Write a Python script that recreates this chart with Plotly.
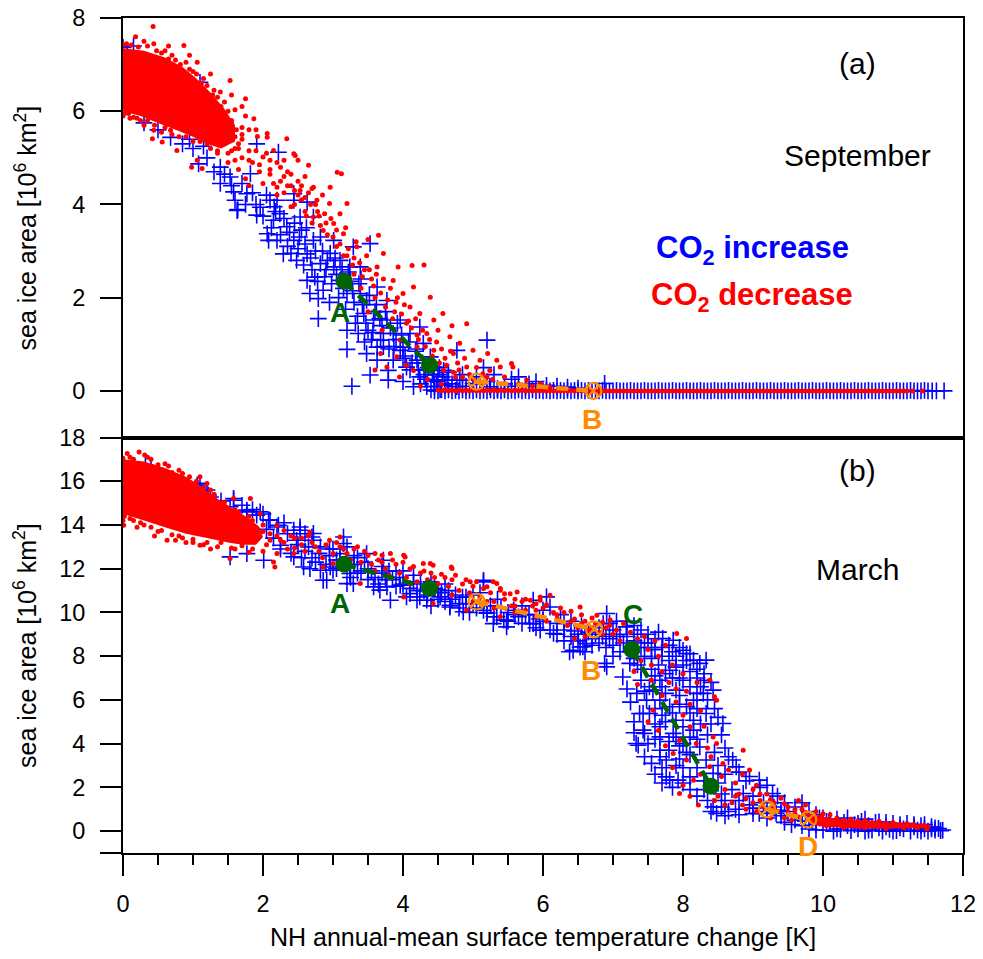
import plotly.graph_objects as go

# ---------------- data ----------------
# Panel (a) September : (temperature change [K], sea ice area [1e6 km2])
sep_increase = [
    (0.0, 7.37), (0.15, 7.40), (0.06, 7.23), (0.0, 6.9), (0.0, 6.75),
    (0.68, 5.44), (1.1, 6.62), (1.25, 6.12), (1.27, 5.8), (1.08, 4.87), (1.39, 4.45), (1.6, 4.09),
    (1.63, 3.87), (1.91, 3.77), (2.22, 5.12), (1.91, 5.3), (1.49, 5.59), (1.39, 4.8), (1.53, 4.59),
    (1.82, 4.66), (2.1, 4.09), (2.16, 3.95), (2.44, 4.23), (2.63, 4.05), (2.72, 3.73),
    (1.58, 4.27), (1.64, 3.89), (1.77, 4.23), (1.96, 3.94), (2.08, 3.23), (2.2, 3.23), (2.29, 2.94),
    (2.48, 2.8), (2.63, 2.37), (2.79, 1.98), (2.79, 1.55), (3.2, 0.89), (3.27, 0.10), (3.53, 0.34),
    (3.79, 0.23), (3.79, 0.44), (3.2, 1.3), (3.36, 1.23), (3.48, 0.8), (3.63, 0.94), (3.72, 1.23),
    (3.1, 2.37), (3.01, 2.66), (2.96, 2.95), (3.01, 3.23), (3.29, 3.09), (3.53, 3.16), (3.39, 2.66),
    (3.63, 2.23), (3.48, 1.94), (3.77, 1.94), (3.96, 1.52), (4.1, 1.23), (4.24, 1.37), (4.29, 1.02),
    (3.96, 0.87), (4.05, 0.51), (4.15, 0.09), (4.34, 0.09), (4.53, 0.02), (4.81, 0.23), (5.2, 1.09),
    (4.77, 0.87), (4.58, 0.44), (4.44, 0.51), (4.39, 0.73), (3.86, 0.66), (3.63, 0.66), (2.74, 2.44),
    (2.67, 2.09), (2.86, 2.16), (2.44, 3.23), (2.63, 2.94), (2.82, 2.73), (2.72, 3.23), (2.34, 3.52),
    (2.15, 3.66), (2.06, 3.37), (2.24, 3.8), (2.53, 3.73), (2.44, 4.09), (2.2, 4.09), (3.24, 2.66),
    (3.2, 2.09), (3.39, 2.09), (3.58, 1.52), (3.44, 1.66), (3.77, 1.52), (3.86, 1.23), (3.68, 1.09),
    (4.0, 0.94), (4.2, 0.66), (4.24, 0.3), (4.44, 0.23), (4.63, 0.23), (4.77, 0.09), (5.0, 0.16),
    (5.24, 0.09), (3.05, 2.5), (3.15, 2.2), (3.25, 2.35), (3.3, 1.9), (3.1, 2.8), (2.9, 2.6),
    (2.85, 3.0), (3.35, 1.6), (3.5, 1.3), (3.6, 1.7), (3.7, 1.4), (3.9, 1.1), (4.0, 0.7), (4.1, 0.45),
    (4.3, 0.35), (4.45, 0.1), (4.2, 0.9), (3.8, 0.9), (3.55, 1.1), (2.55, 3.45), (2.35, 3.1),
    (2.6, 3.15), (2.7, 2.6), (2.95, 1.9), (3.4, 2.4), (3.45, 1.05), (4.0, 0.2), (4.25, 0.15),
    (4.5, 0.35), (4.6, 0.12), (5.05, 0.3), (5.15, 0.5), (5.2, 0.2), (5.3, 0.35), (5.45, 0.15),
    (5.55, 0.25), (5.75, 0.1), (6.05, 0.12), (6.35, 0.08), (6.88, 0.16), (5.9, 0.2),
]
sep_increase_band = [
    (1.45, 4.65), (1.55, 4.4), (1.7, 4.45), (1.75, 4.0), (1.85, 4.25), (1.9, 4.0), (2.0, 3.75),
    (2.05, 4.2), (2.12, 3.5), (2.18, 3.85), (2.25, 3.35), (2.3, 3.7), (2.38, 3.4), (2.4, 2.95),
    (2.45, 3.6), (2.5, 3.05), (2.52, 3.3), (2.58, 2.7), (2.62, 3.5), (2.68, 2.85), (2.75, 3.0),
    (2.78, 2.35), (2.82, 3.3), (2.88, 2.45), (2.92, 2.8), (2.98, 2.3), (3.03, 2.85), (3.08, 2.0),
    (3.13, 2.6), (3.18, 1.75), (3.22, 2.55), (3.28, 2.15), (3.32, 1.45), (3.37, 2.3), (3.42, 1.85),
    (3.47, 1.45), (3.52, 2.05), (3.57, 1.25), (3.62, 1.85), (3.67, 1.55), (3.72, 0.95), (3.75, 1.7),
    (3.82, 1.35), (3.87, 0.95), (3.92, 1.45), (3.98, 1.2), (4.03, 0.75), (4.08, 1.05), (4.13, 0.6),
    (4.18, 0.85), (4.22, 0.45), (4.28, 0.6), (4.32, 0.25), (4.36, 0.5), (4.42, 0.35), (4.48, 0.2),
    (4.52, 0.5), (4.56, 0.3), (4.65, 0.4), (4.7, 0.15), (4.85, 0.35), (4.9, 0.1), (5.1, 0.15),
    (5.35, 0.05), (5.6, 0.1), (5.65, 0.3), (5.8, 0.15), (6.2, 0.1), (6.5, 0.06),
    (0.3, 5.75), (0.5, 5.6), (0.85, 5.3), (1.0, 5.2), (1.2, 5.0), (1.3, 4.7), (0.95, 5.4), (1.15, 5.25),
]
sep_increase_tail = [
    (4.40, 0.02), (4.45, 0.0), (4.50, 0.0), (4.55, 0.03), (4.60, 0.0), (4.65, 0.02), (4.70, 0.0), (4.75, 0.01),
    (4.80, 0.0), (4.85, 0.02), (4.90, 0.0), (4.95, 0.01), (5.00, 0.0), (5.05, 0.02), (5.10, 0.0), (5.15, 0.01),
    (5.20, 0.0), (5.25, 0.02), (5.30, 0.0), (5.35, 0.01), (5.40, 0.0), (5.45, 0.02), (5.50, 0.0), (5.55, 0.01),
    (5.60, 0.0), (5.65, 0.02), (5.70, 0.0), (5.75, 0.01), (5.80, 0.0), (5.85, 0.02), (5.90, 0.0), (5.95, 0.01),
    (6.00, 0.0), (6.05, 0.01), (6.10, 0.0), (6.15, 0.01), (6.20, 0.0), (6.25, 0.01), (6.30, 0.0), (6.35, 0.01),
    (6.40, 0.0), (6.45, 0.01), (6.50, 0.0), (6.55, 0.01), (6.60, 0.0), (6.65, 0.01), (6.70, 0.0), (6.75, 0.01),
    (6.80, 0.0), (6.85, 0.01), (6.90, 0.0), (6.95, 0.0), (7.00, 0.0), (7.05, 0.01), (7.10, 0.0), (7.15, 0.0),
    (7.20, 0.0), (7.25, 0.01), (7.30, 0.0), (7.35, 0.0), (7.40, 0.0), (7.45, 0.01), (7.50, 0.0), (7.55, 0.0),
    (7.60, 0.0), (7.65, 0.01), (7.70, 0.0), (7.75, 0.0), (7.80, 0.0), (7.85, 0.01), (7.90, 0.0), (7.95, 0.0),
    (8.00, 0.0), (8.05, 0.01), (8.10, 0.0), (8.15, 0.0), (8.20, 0.0), (8.25, 0.01), (8.30, 0.0), (8.35, 0.0),
    (8.40, 0.0), (8.45, 0.01), (8.50, 0.0), (8.55, 0.0), (8.60, 0.0), (8.65, 0.01), (8.70, 0.0), (8.75, 0.0),
    (8.80, 0.0), (8.85, 0.01), (8.90, 0.0), (8.95, 0.0), (9.00, 0.0), (9.05, 0.01), (9.10, 0.0), (9.15, 0.0),
    (9.20, 0.0), (9.25, 0.01), (9.30, 0.0), (9.35, 0.0), (9.40, 0.0), (9.45, 0.01), (9.50, 0.0), (9.55, 0.0),
    (9.60, 0.0), (9.65, 0.01), (9.70, 0.0), (9.75, 0.0), (9.80, 0.0), (9.85, 0.01), (9.90, 0.0), (9.95, 0.0),
    (10.00, 0.0), (10.05, 0.01), (10.10, 0.0), (10.15, 0.0), (10.20, 0.0), (10.25, 0.01), (10.30, 0.0), (10.35, 0.0),
    (10.40, 0.0), (10.45, 0.01), (10.50, 0.0), (10.55, 0.0), (10.60, 0.0), (10.65, 0.01), (10.70, 0.0), (10.75, 0.0),
    (10.80, 0.0), (10.85, 0.01), (10.90, 0.0), (10.95, 0.0), (11.00, 0.0), (11.05, 0.01), (11.10, 0.0), (11.15, 0.0),
    (11.20, 0.0), (11.25, 0.01), (11.30, 0.0), (11.35, 0.0), (11.40, 0.0), (11.45, 0.01), (11.50, 0.0), (11.56, 0.0),
    (11.62, 0.0), (11.73, 0.0),
]
sep_decrease_core = [
    (0.0, 7.35), (0.3, 7.3), (0.6, 7.15), (0.85, 6.95), (1.05, 6.7), (1.25, 6.4), (1.45, 6.05),
    (1.6, 5.7), (1.6, 5.35), (1.4, 5.2), (1.2, 5.3), (1.0, 5.45), (0.75, 5.6), (0.5, 5.75),
    (0.25, 5.9), (0.0, 6.0),
]
sep_decrease = [
    (0.43, 7.82), (0.18, 7.6), (0.44, 7.45), (0.87, 7.41), (1.06, 7.05), (1.53, 6.66), (1.75, 6.27),
    (1.39, 6.41), (1.6, 6.03), (1.87, 5.84), (2.06, 5.44), (2.34, 5.41), (2.46, 5.05), (2.65, 4.84),
    (2.6, 4.6), (2.72, 4.37), (1.92, 5.46), (2.15, 5.16), (2.0, 5.02), (2.25, 4.8), (2.3, 4.6),
    (2.2, 4.37), (1.06, 4.95), (1.13, 4.77), (0.98, 4.8), (0.77, 5.16), (0.56, 5.34), (0.42, 5.41),
    (0.25, 5.8), (0.15, 5.87), (0.44, 5.59), (0.68, 5.59),
    (0.05, 7.45), (0.3, 7.5), (0.6, 7.3), (0.7, 7.2), (0.9, 7.05), (1.0, 6.85), (1.15, 6.7), (1.3, 6.45),
    (1.45, 6.2), (1.45, 5.9), (1.5, 5.6), (1.4, 5.35), (1.2, 5.3), (1.0, 5.35), (0.8, 5.45), (0.55, 5.55),
    (0.3, 5.7), (0.1, 5.85), (0.02, 5.95), (1.25, 5.55), (1.55, 5.8), (1.6, 5.45),
    (1.45, 5.3), (1.55, 5.15), (1.65, 5.3), (1.7, 5.0), (1.8, 5.15), (1.85, 4.9), (1.9, 5.6), (1.7, 5.65),
    (1.65, 4.75), (1.75, 4.55), (1.95, 4.7), (2.0, 4.45), (2.1, 4.65), (2.1, 4.95), (2.2, 4.2), (2.3, 4.95),
    (2.35, 4.4), (2.4, 4.65), (2.45, 4.3), (2.5, 4.5), (2.55, 4.1), (2.4, 3.95), (2.6, 3.85), (2.65, 4.25),
    (2.75, 4.0), (2.8, 3.75), (2.85, 4.2), (2.9, 3.6), (1.35, 5.1), (1.5, 4.9), (1.6, 4.95), (1.8, 4.4),
    (2.06, 5.52), (2.44, 5.09), (2.5, 4.95), (2.7, 4.34), (3.06, 4.69), (3.12, 4.66), (2.96, 4.37),
    (3.2, 4.02), (3.1, 3.8), (2.95, 4.02), (2.77, 4.09), (2.53, 4.3), (2.72, 3.73), (2.86, 3.44),
    (3.01, 3.59), (3.15, 3.37), (3.34, 3.09), (3.5, 3.25), (3.65, 3.34), (3.72, 2.95), (3.63, 2.66),
    (3.93, 2.66), (4.13, 2.69), (4.3, 2.7), (3.86, 2.37), (4.0, 2.09), (4.15, 2.23), (4.39, 2.01),
    (4.57, 1.66), (4.44, 1.52), (4.24, 1.66), (4.1, 1.8), (4.34, 1.23), (4.67, 1.16), (4.81, 1.02),
    (4.91, 1.44), (5.0, 0.87), (5.1, 0.66), (4.72, 0.8), (4.44, 0.87), (4.2, 0.94), (3.96, 1.09),
    (3.91, 0.73), (3.68, 0.8), (3.77, 0.51), (4.15, 0.44), (4.58, 0.44), (4.91, 0.51), (5.14, 0.37),
    (5.21, 0.8), (5.55, 0.59), (5.34, 0.66), (5.57, 0.51), (5.39, 0.51), (5.24, 0.44), (5.2, 0.3),
    (5.96, 0.16), (5.77, 0.23), (3.3, 2.85), (3.45, 2.6), (3.55, 2.4), (3.4, 2.2), (3.6, 2.0),
    (3.75, 1.8), (3.9, 1.9), (3.85, 1.55), (4.05, 1.45), (4.2, 1.2), (3.7, 1.3), (3.5, 1.7), (3.3, 2.5),
    (3.2, 2.9), (3.05, 3.1), (4.4, 0.6), (4.6, 0.7), (4.8, 0.45), (4.35, 0.25), (4.55, 0.15),
    (4.75, 0.3), (5.0, 0.25), (3.95, 0.3), (4.05, 0.55), (3.6, 0.45), (4.25, 0.1),
]
sep_decrease_band = [
    (1.6, 5.2), (1.7, 5.4), (1.8, 4.95), (1.9, 5.15), (1.95, 4.85), (2.05, 5.1), (2.1, 4.75),
    (2.15, 4.45), (2.2, 4.9), (2.25, 4.5), (2.3, 4.25), (2.35, 4.7), (2.4, 4.4), (2.45, 4.0),
    (2.5, 4.2), (2.55, 4.4), (2.6, 4.15), (2.62, 3.75), (2.68, 4.0), (2.7, 3.6), (2.78, 3.85),
    (2.82, 3.55), (2.88, 3.8), (2.92, 3.35), (2.97, 3.7), (3.0, 3.3), (3.05, 3.45), (3.1, 3.15),
    (3.15, 2.9), (3.18, 3.5), (3.22, 3.05), (3.28, 2.7), (3.33, 3.2), (3.38, 2.75), (3.42, 2.45),
    (3.48, 2.9), (3.52, 2.6), (3.58, 2.25), (3.62, 2.5), (3.68, 2.1), (3.72, 2.4), (3.78, 1.95),
    (3.82, 2.2), (3.88, 1.7), (3.92, 2.0), (3.98, 1.65), (4.02, 1.85), (4.08, 1.5), (4.12, 1.35),
    (4.18, 1.55), (4.22, 1.1), (4.28, 1.3), (4.32, 0.95), (4.38, 1.1), (4.42, 0.75), (4.48, 1.05),
    (4.52, 0.6), (4.55, 0.9), (4.62, 0.55), (4.68, 0.85), (4.72, 0.4), (4.78, 0.6), (4.85, 0.3),
    (4.88, 0.7), (4.95, 0.35), (5.05, 0.5), (5.1, 0.2), (5.28, 0.25), (5.45, 0.3), (5.65, 0.15),
    (5.85, 0.1), (6.1, 0.08), (6.3, 0.05), (4.5, 1.3), (4.7, 1.4),
    (0.0, 7.42), (0.12, 7.42), (0.22, 7.38), (0.35, 7.4), (0.48, 7.3), (0.55, 7.25), (0.65, 7.12),
    (0.75, 7.1), (0.82, 7.0), (0.95, 6.9), (1.05, 6.8), (1.12, 6.6), (1.2, 6.55), (1.28, 6.35),
    (1.35, 6.3), (1.4, 6.1), (1.5, 6.0), (1.55, 5.75), (1.62, 5.6), (1.7, 5.5), (1.65, 5.2),
    (1.5, 5.1), (1.35, 5.15), (1.25, 5.2), (1.1, 5.35), (0.9, 5.45), (0.7, 5.5), (0.6, 5.65),
    (0.45, 5.7), (0.35, 5.8), (0.2, 5.85), (0.08, 5.95), (0.0, 5.9), (0.05, 6.1), (1.75, 5.9),
    (1.8, 5.6), (1.7, 6.1), (1.55, 6.35), (1.25, 6.8), (0.95, 7.2), (0.65, 7.4), (1.45, 5.45),
]
sep_decrease_tail = [
    (4.50, 0.02), (4.55, 0.0), (4.60, 0.03), (4.65, 0.0), (4.70, 0.02), (4.75, 0.0), (4.80, 0.03), (4.85, 0.0),
    (4.90, 0.02), (4.95, 0.0), (5.00, 0.03), (5.05, 0.0), (5.10, 0.02), (5.15, 0.0), (5.20, 0.02), (5.25, 0.0),
    (5.30, 0.02), (5.35, 0.0), (5.40, 0.02), (5.45, 0.0), (5.50, 0.02), (5.55, 0.0), (5.60, 0.02), (5.65, 0.0),
    (5.70, 0.02), (5.75, 0.0), (5.80, 0.01), (5.85, 0.0), (5.90, 0.01), (5.95, 0.0), (6.00, 0.01), (6.05, 0.0),
    (6.10, 0.01), (6.15, 0.0), (6.20, 0.01), (6.25, 0.0), (6.30, 0.01), (6.35, 0.0), (6.40, 0.01), (6.45, 0.0),
    (6.50, 0.01), (6.55, 0.0), (6.60, 0.01), (6.65, 0.0), (6.70, 0.0), (6.75, 0.0), (6.80, 0.0), (6.85, 0.0),
    (6.90, 0.0), (6.95, 0.0), (7.00, 0.0), (7.05, 0.0), (7.10, 0.0), (7.15, 0.0), (7.20, 0.0), (7.25, 0.0),
    (7.30, 0.0), (7.35, 0.0), (7.40, 0.0), (7.45, 0.0), (7.50, 0.0), (7.55, 0.0), (7.60, 0.0), (7.65, 0.0),
    (7.70, 0.0), (7.75, 0.0), (7.80, 0.0), (7.85, 0.0), (7.90, 0.0), (7.95, 0.0), (8.00, 0.0), (8.05, 0.0),
    (8.10, 0.0), (8.15, 0.0), (8.20, 0.0), (8.25, 0.0), (8.30, 0.0), (8.35, 0.0), (8.40, 0.0), (8.45, 0.0),
    (8.50, 0.0), (8.55, 0.0), (8.60, 0.0), (8.65, 0.0), (8.70, 0.0), (8.75, 0.0), (8.80, 0.0), (8.85, 0.0),
    (8.90, 0.0), (8.95, 0.0), (9.00, 0.0), (9.05, 0.0), (9.10, 0.0), (9.15, 0.0), (9.20, 0.0), (9.25, 0.0),
    (9.30, 0.0), (9.35, 0.0), (9.40, 0.0), (9.45, 0.0), (9.50, 0.0), (9.55, 0.0), (9.60, 0.0), (9.65, 0.0),
    (9.70, 0.0), (9.75, 0.0), (9.80, 0.0), (9.85, 0.0), (9.90, 0.0), (9.95, 0.0), (10.00, 0.0), (10.05, 0.0),
    (10.10, 0.0), (10.15, 0.0), (10.20, 0.0), (10.25, 0.0), (10.30, 0.0), (10.35, 0.0), (10.40, 0.0), (10.45, 0.0),
    (10.50, 0.0), (10.55, 0.0), (10.60, 0.0), (10.65, 0.0), (10.70, 0.0), (10.75, 0.0), (10.80, 0.0), (10.85, 0.0),
    (10.90, 0.0), (10.95, 0.0), (11.00, 0.0), (11.05, 0.0), (11.10, 0.0), (11.15, 0.0), (11.20, 0.0), (11.28, 0.0),
    (11.42, 0.0),
]

# Panel (b) March
mar_increase = [
    (0.0, 15.85), (0.0, 15.0), (0.32, 16.74), (0.05, 16.3), (0.4, 16.6),
    (1.1, 15.9), (1.06, 15.74), (1.25, 15.28), (1.58, 15.21), (1.53, 14.83), (1.77, 14.68), (1.91, 14.45),
    (2.1, 14.22), (2.2, 13.91), (2.44, 13.76), (2.53, 13.91), (2.72, 13.61), (2.72, 13.3), (1.4, 15.1),
    (1.7, 14.9), (1.85, 14.7), (2.0, 14.5), (2.3, 14.1), (2.6, 13.6), (1.2, 15.6), (1.06, 15.82),
    (1.22, 15.36), (1.58, 15.13), (1.77, 14.6), (1.96, 14.6), (2.08, 14.22), (2.22, 13.99), (2.53, 13.76),
    (2.7, 13.45), (1.53, 12.54), (2.01, 12.39), (1.77, 12.69), (2.25, 13.07), (2.44, 12.54), (2.58, 12.08),
    (2.67, 12.0), (2.82, 11.93), (2.96, 12.08), (3.1, 12.69), (3.2, 13.0), (3.24, 11.78), (2.82, 13.0),
    (2.48, 13.3), (2.86, 11.47), (3.0, 11.93), (3.2, 11.32), (3.67, 11.02), (3.77, 11.17), (4.05, 10.71),
    (4.24, 10.71), (4.34, 10.56), (4.67, 10.33), (4.86, 10.03), (5.15, 11.47), (5.34, 9.8), (2.91, 11.47),
    (3.29, 11.32), (3.58, 11.17), (3.96, 11.25), (4.1, 10.86), (3.82, 10.56), (4.2, 10.56), (4.53, 10.71),
    (4.67, 10.25), (4.81, 10.41), (5.15, 11.4), (5.29, 9.49), (5.44, 9.65), (5.48, 9.34), (5.2, 9.96),
    (5.58, 10.1), (5.81, 9.49), (5.96, 9.19), (6.1, 10.25), (6.15, 9.04), (5.86, 10.56), (6.05, 10.71),
    (3.15, 13.45), (3.48, 12.69), (3.72, 12.39), (3.15, 13.15), (3.3, 12.2), (3.4, 11.9), (3.5, 12.0),
    (3.6, 11.6), (3.7, 11.8), (3.85, 11.5), (3.9, 11.9), (4.0, 11.3), (4.15, 11.4), (4.3, 11.0),
    (4.45, 11.1), (4.55, 10.9), (4.6, 11.3), (4.75, 10.8), (4.9, 10.7), (5.0, 10.4), (5.1, 10.9),
    (3.05, 12.4), (2.95, 12.6), (3.35, 12.5), (4.4, 10.3), (4.95, 10.0), (3.0, 12.9), (2.7, 12.5),
    (2.6, 12.8), (5.15, 10.1), (5.48, 9.65), (5.86, 9.49), (6.43, 8.27), (6.53, 8.42), (6.62, 8.58),
    (6.88, 7.67), (6.91, 9.95), (5.25, 10.3), (5.35, 10.6), (5.5, 10.0), (5.65, 9.8), (5.7, 10.3),
    (5.8, 9.9), (5.95, 9.7), (6.0, 10.1), (6.2, 9.5), (6.25, 9.9), (6.3, 9.2), (6.4, 9.6), (6.5, 9.0),
    (6.55, 9.4), (6.65, 9.1), (6.7, 8.8), (6.8, 9.3), (6.85, 8.9), (6.95, 9.5), (6.4, 8.9), (6.3, 8.7),
    (6.6, 8.2), (6.38, 8.2), (6.57, 8.43),
    (6.91, 7.51), (6.86, 9.49), (7.0, 9.2), (7.19, 9.34), (7.24, 7.67), (7.14, 7.05), (7.34, 6.3),
    (7.38, 5.38), (7.36, 3.93), (7.45, 4.47), (7.52, 6.6), (7.67, 5.99), (7.67, 4.31), (7.67, 3.7),
    (7.76, 3.25), (7.81, 2.33), (7.93, 2.33), (7.71, 8.81), (7.86, 8.73), (8.05, 8.12), (8.15, 7.82),
    (8.24, 7.67), (8.33, 7.82), (8.0, 8.27), (8.1, 8.11), (8.29, 6.3), (8.43, 6.45), (8.33, 5.38),
    (8.57, 4.92), (8.15, 4.62), (8.24, 3.85), (8.33, 3.25), (8.71, 3.25), (8.76, 2.94), (8.43, 2.64),
    (9.09, 2.33), (9.28, 1.72), (8.43, 1.11), (8.48, 0.81), (8.86, 1.72), (9.09, 0.81), (9.33, 0.81),
    (7.67, 6.9), (7.81, 7.36), (7.9, 6.45), (7.57, 6.45), (8.0, 6.9), (8.05, 5.69), (7.9, 5.07),
    (7.81, 5.69), (8.15, 5.99), (7.52, 5.38), (7.48, 5.99), (7.67, 4.77), (7.86, 4.47), (8.0, 4.77),
    (8.15, 5.07), (7.33, 4.01), (7.43, 4.62), (7.43, 5.38), (7.67, 3.4), (7.76, 2.48), (8.1, 2.48),
    (7.05, 8.9), (7.15, 8.6), (7.2, 8.9), (7.3, 8.7), (7.35, 9.0), (7.4, 8.4), (7.45, 8.0), (7.5, 8.6),
    (7.55, 7.9), (7.6, 8.3), (7.65, 7.6), (7.7, 8.0), (7.75, 7.2), (7.8, 7.8), (7.85, 8.2), (7.9, 7.5),
    (7.95, 7.0), (8.0, 7.6), (8.1, 7.3), (8.2, 7.0), (8.25, 6.6), (8.1, 6.6), (7.95, 6.2), (8.2, 6.3),
    (7.75, 6.3), (7.6, 7.1), (7.4, 7.4), (7.3, 7.9), (7.1, 8.2), (7.0, 8.5), (6.95, 8.8), (7.85, 5.4),
    (7.95, 5.8), (7.7, 5.3), (7.6, 4.9), (7.8, 4.1), (7.95, 3.9), (8.05, 3.6), (7.9, 3.0), (8.0, 2.9),
    (7.7, 2.9), (8.2, 2.9), (8.3, 2.3), (8.5, 2.2), (8.55, 1.7), (8.6, 1.4), (8.7, 1.9), (8.8, 1.4),
    (8.9, 2.3), (8.95, 1.2), (9.0, 1.6), (9.15, 1.3), (9.2, 0.9), (9.3, 1.1), (9.4, 0.7), (9.5, 0.9),
    (9.6, 0.5), (9.7, 0.7), (8.65, 0.9), (8.75, 1.0), (8.55, 1.1), (9.0, 0.8), (9.45, 0.4), (9.55, 0.3),
    (9.7, 0.25), (9.8, 0.1), (9.9, 0.3), (10.0, 0.05), (10.1, 0.35), (10.15, 0.0), (10.25, 0.08),
    (10.3, 0.4), (10.4, 0.02), (10.5, 0.1), (10.55, 0.45), (10.6, 0.0), (10.7, 0.05), (10.75, 0.4),
    (10.8, 0.42), (10.85, 0.0), (10.95, 0.08), (11.0, 0.35), (11.05, 0.02), (11.15, 0.1), (11.2, 0.35),
    (11.25, 0.0), (11.35, 0.05), (11.4, 0.25), (11.45, 0.1), (11.5, 0.0), (11.55, 0.2), (11.6, 0.05),
    (11.65, 0.12), (11.71, 0.05), (10.2, 0.55), (9.95, 0.6), (10.45, 0.3), (10.65, 0.25), (10.9, 0.2),
    (11.1, 0.3), (11.3, 0.2), (9.85, 0.45),
]
mar_increase_band = [
    (2.05, 13.8), (2.15, 13.4), (2.25, 12.9), (2.35, 13.6), (2.4, 12.7), (2.5, 13.1), (2.55, 12.5),
    (2.65, 13.0), (2.75, 12.3), (2.8, 12.7), (2.9, 12.2), (2.95, 12.9), (3.05, 12.0), (3.1, 12.4),
    (3.2, 12.1), (3.25, 11.6), (3.3, 12.6), (3.35, 11.8), (3.45, 12.3), (3.5, 11.5), (3.55, 11.9),
    (3.65, 11.3), (3.7, 12.1), (3.75, 11.5), (3.8, 11.9), (3.9, 11.2), (3.95, 11.6), (4.0, 11.9),
    (4.1, 11.1), (4.15, 11.7), (4.2, 11.0), (4.25, 11.3), (4.35, 10.8), (4.4, 11.4), (4.5, 10.6),
    (4.5, 11.05), (4.6, 10.5), (4.65, 11.0), (4.7, 10.6), (4.8, 10.2), (4.85, 10.7), (4.9, 10.4),
    (5.0, 10.8), (5.05, 10.2), (5.1, 10.5), (5.2, 10.0), (5.3, 9.8), (5.4, 10.2), (5.5, 9.6),
    (5.6, 9.9), (5.7, 9.5), (5.75, 9.9), (5.9, 9.3), (6.0, 9.6), (6.1, 9.2), (6.2, 9.0), (6.3, 9.5),
    (6.45, 9.15), (6.5, 8.7), (6.6, 9.0), (6.7, 8.5), (6.75, 9.0), (6.8, 8.6), (6.9, 8.4), (6.9, 9.0),
    (7.0, 8.0), (7.05, 9.6), (7.1, 9.0), (7.2, 9.6), (7.25, 8.2), (7.3, 9.4), (7.4, 9.2), (7.45, 8.6),
    (7.5, 9.0), (7.55, 8.4), (7.6, 8.8), (7.65, 9.1), (7.7, 8.4), (7.8, 8.5), (7.9, 8.0), (7.95, 8.4),
    (8.05, 7.8), (8.2, 7.4), (8.3, 7.2), (8.3, 6.9), (8.4, 6.8), (8.35, 6.0), (8.45, 5.6), (8.4, 4.9),
    (8.5, 5.2), (8.35, 4.4), (8.55, 4.4), (8.45, 3.6), (8.6, 3.8), (8.5, 3.0), (8.65, 3.4), (8.8, 2.7),
    (8.6, 2.6), (8.95, 2.5), (9.1, 2.0), (9.2, 2.1), (9.35, 1.6), (9.45, 1.3), (9.6, 1.1), (9.7, 1.3),
    (9.8, 0.9), (9.9, 0.75), (10.0, 0.6), (10.1, 0.5), (10.35, 0.6), (10.6, 0.55), (7.2, 6.5),
    (7.25, 5.9), (7.3, 5.0), (7.3, 4.5), (7.45, 3.4), (7.55, 3.1), (7.6, 2.6), (7.7, 2.2), (7.85, 2.0),
    (8.0, 2.2), (8.1, 1.9), (8.2, 1.6), (8.35, 1.4), (8.3, 1.9), (8.4, 0.9), (8.6, 0.7), (8.8, 0.75),
    (9.0, 1.05), (9.2, 0.6), (9.4, 0.95), (7.8, 3.7), (7.9, 4.3), (7.6, 4.2), (7.5, 4.0), (7.75, 5.0),
    (7.6, 5.6), (7.7, 6.6), (7.45, 6.4), (7.4, 6.9), (7.35, 7.6), (7.55, 7.4), (7.85, 7.0), (8.1, 5.4),
    (8.2, 5.6), (8.25, 4.9), (8.1, 4.3), (8.2, 4.2), (8.0, 4.0), (8.1, 3.5), (7.95, 3.3),
    (9.75, 0.45), (9.9, 0.05), (10.05, 0.45), (10.2, 0.1), (10.35, 0.25), (10.5, 0.35), (10.65, 0.05),
    (10.8, 0.15), (10.9, 0.4), (11.0, 0.0), (11.1, 0.15), (11.3, 0.3), (11.4, 0.0), (11.45, 0.3),
    (11.55, 0.1), (11.6, 0.15), (11.68, 0.02),
]
mar_decrease_core = [
    (0.0, 17.0), (0.3, 16.9), (0.6, 16.6), (0.9, 16.2), (1.1, 15.8), (1.3, 15.3), (1.55, 14.8),
    (1.8, 14.3), (1.95, 13.9), (2.0, 13.45), (1.9, 13.1), (1.7, 13.1), (1.5, 13.2), (1.2, 13.4),
    (0.9, 13.6), (0.6, 13.9), (0.3, 14.2), (0.0, 14.5),
]
mar_decrease_tail_core = [
    (9.85, 0.75), (10.2, 0.55), (10.6, 0.45), (11.0, 0.38), (11.4, 0.3), (11.45, 0.15), (11.0, 0.12),
    (10.5, 0.12), (10.0, 0.2), (9.8, 0.35),
]
mar_decrease = [
    (0.06, 17.27), (0.23, 17.34), (0.31, 17.2), (1.1, 16.2), (1.2, 15.9), (1.58, 15.21), (1.82, 15.21),
    (1.96, 14.52), (2.2, 13.99), (2.67, 13.68), (3.1, 13.45), (3.1, 13.0), (3.7, 12.62), (4.03, 12.54),
    (4.43, 12.16), (4.69, 12.08), (5.34, 11.32), (0.01, 13.99), (0.63, 13.3), (1.1, 13.07), (1.53, 12.47),
    (2.15, 12.31), (2.17, 12.08), (2.44, 12.69), (3.0, 12.24),
    (0.1, 17.1), (0.4, 17.0), (0.6, 16.8), (0.8, 16.5), (0.95, 16.2), (1.15, 15.7), (1.3, 15.4),
    (1.4, 15.0), (1.6, 14.7), (1.8, 14.4), (2.0, 14.0), (2.1, 13.6), (2.05, 13.1), (1.85, 12.9),
    (1.6, 12.9), (1.4, 13.2), (1.2, 13.2), (1.0, 13.35), (0.8, 13.5), (0.5, 13.7), (0.3, 14.0),
    (0.15, 14.2), (0.02, 14.4), (0.45, 13.5), (0.9, 13.2), (1.7, 13.05), (1.35, 14.9), (1.55, 14.5),
    (2.2, 13.5), (2.3, 13.2), (2.35, 12.9), (2.45, 13.4), (2.55, 13.1), (2.6, 12.8), (2.7, 13.2),
    (2.8, 12.8), (2.85, 12.5), (2.9, 13.1), (3.0, 12.7), (3.05, 13.2), (3.2, 12.7), (3.25, 12.4),
    (3.3, 12.9), (3.4, 12.3), (3.5, 12.6), (3.55, 12.2), (3.6, 11.9), (3.65, 12.4), (3.75, 12.0),
    (3.8, 11.7), (3.9, 12.2), (3.95, 11.8), (4.05, 11.6), (4.1, 12.0), (4.2, 11.4), (4.25, 11.8),
    (4.35, 11.5), (4.45, 11.6), (4.5, 11.3), (4.55, 11.75), (4.65, 11.2), (4.7, 11.5), (4.8, 11.0),
    (4.85, 11.3), (4.95, 10.9), (5.0, 11.2), (5.1, 10.7), (3.82, 12.69), (4.01, 12.62), (4.29, 12.24),
    (4.39, 12.24), (4.7, 12.01), (4.96, 11.4), (5.29, 11.4), (5.39, 11.02), (5.63, 10.94), (5.82, 10.56),
    (5.96, 10.56), (6.1, 10.79), (2.86, 12.08), (3.39, 11.32), (4.01, 10.71), (4.43, 10.41), (4.91, 10.1),
    (5.39, 9.8), (5.2, 11.17), (5.39, 11.09), (5.53, 10.86), (5.96, 10.71), (6.53, 10.25), (6.77, 9.87),
    (6.96, 9.65), (5.2, 10.5), (5.3, 10.2), (5.45, 10.6), (5.55, 10.3), (5.6, 10.0), (5.7, 10.5),
    (5.75, 10.1), (5.85, 10.3), (5.9, 9.8), (6.0, 10.2), (6.05, 9.6), (6.15, 10.0), (6.2, 9.7),
    (6.3, 10.0), (6.35, 9.4), (6.45, 9.7), (6.5, 9.3), (6.6, 9.6), (6.65, 9.2), (6.75, 9.5), (6.8, 9.1),
    (6.9, 9.3), (7.0, 9.0), (6.45, 8.8), (6.6, 8.9),
    (7.91, 9.04), (8.05, 8.81), (8.48, 5.99), (8.38, 6.9), (8.45, 6.14), (8.43, 4.31), (8.48, 4.01),
    (8.86, 3.7), (8.22, 1.19), (7.95, 1.72), (8.15, 2.33), (8.38, 2.94), (8.57, 3.09), (8.05, 3.25),
    (7.86, 3.55), (8.19, 4.01), (8.1, 4.77), (7.95, 4.16), (7.57, 5.53),
    (7.05, 9.2), (7.1, 8.7), (7.15, 9.5), (7.2, 8.4), (7.25, 9.1), (7.3, 8.2), (7.35, 8.8), (7.4, 7.8),
    (7.45, 8.9), (7.5, 8.3), (7.55, 7.6), (7.6, 8.7), (7.65, 8.0), (7.7, 7.3), (7.75, 8.5), (7.8, 6.8),
    (7.85, 7.6), (7.9, 6.5), (8.0, 7.2), (8.05, 6.4), (8.1, 5.8), (8.2, 6.8), (8.25, 5.5), (8.3, 4.8),
    (8.35, 3.8), (8.4, 3.4), (8.0, 5.3), (7.9, 5.9), (7.7, 6.2), (7.55, 6.9), (7.3, 7.3), (7.35, 6.7),
    (7.5, 5.0), (7.65, 4.6), (7.75, 3.9), (7.85, 2.9), (8.0, 2.1), (8.1, 1.6), (8.25, 2.6), (8.55, 2.5),
    (8.65, 2.8), (8.75, 2.2), (8.85, 2.6), (8.95, 2.8), (9.05, 2.1), (8.5, 1.6), (8.6, 1.9), (8.7, 1.3),
    (8.8, 1.7), (8.9, 1.0), (9.0, 1.9), (9.1, 1.4), (9.2, 1.7), (9.3, 1.3), (9.4, 1.5), (9.35, 0.9),
    (9.5, 1.1), (9.6, 0.8), (9.7, 1.0), (9.45, 0.6), (9.25, 0.6), (9.05, 0.9), (8.85, 1.2), (8.6, 1.2),
    (8.45, 1.4), (9.55, 0.5), (9.8, 0.7), (9.75, 1.2), (9.9, 0.9), (10.0, 0.8), (10.1, 0.75), (9.65, 1.4),
    (10.2, 0.6), (10.3, 0.5), (10.4, 0.55), (10.5, 0.45), (10.6, 0.5), (10.7, 0.4), (10.8, 0.45),
    (10.9, 0.35), (11.0, 0.4), (11.1, 0.3), (11.2, 0.35), (11.3, 0.3), (11.4, 0.25), (11.5, 0.2),
    (11.35, 0.15), (11.15, 0.15), (10.9, 0.12), (10.6, 0.15), (10.3, 0.18), (10.05, 0.25), (9.9, 0.4),
    (11.48, 0.1),
]
mar_decrease_band = [
    (0.0, 17.05), (0.15, 17.0), (0.35, 17.1), (0.5, 16.75), (0.65, 16.7), (0.7, 16.4), (0.85, 16.35),
    (0.9, 16.0), (1.05, 16.0), (1.15, 15.5), (1.25, 15.6), (1.3, 15.2), (1.45, 15.05), (1.5, 14.7),
    (1.65, 14.6), (1.7, 14.3), (1.85, 14.2), (1.9, 13.9), (2.0, 13.7), (2.1, 13.3), (2.25, 13.3),
    (2.3, 13.75), (2.4, 13.5), (2.45, 12.95), (2.2, 12.7), (2.0, 12.8), (1.8, 12.75), (1.55, 12.95),
    (1.35, 13.0), (1.15, 13.1), (1.0, 13.2), (0.85, 13.4), (0.7, 13.55), (0.55, 13.75), (0.4, 13.9),
    (0.25, 14.1), (0.1, 14.3), (0.0, 14.2), (0.2, 13.9), (0.75, 13.3), (1.25, 12.9),
    (2.55, 13.4), (2.65, 13.5), (2.75, 13.0), (2.95, 13.3), (3.15, 12.9), (3.35, 13.0), (3.45, 12.8),
    (3.6, 12.7), (3.7, 12.3), (3.85, 12.4), (4.0, 12.3), (4.15, 12.1), (4.3, 11.9), (4.4, 11.8),
    (4.6, 11.6), (4.75, 11.7), (4.9, 11.5), (5.05, 11.4), (5.15, 11.1), (5.25, 10.9), (5.45, 10.85),
    (5.6, 10.6), (5.75, 10.6), (5.9, 10.4), (6.05, 10.35), (6.25, 10.2), (6.4, 10.05), (6.55, 9.9),
    (6.7, 9.75), (6.85, 9.55), (6.95, 9.4), (3.2, 12.3), (3.5, 11.9), (3.8, 11.6), (4.1, 11.3),
    (4.4, 11.0), (4.7, 10.8), (5.0, 10.5), (5.3, 10.5), (5.6, 10.3), (5.9, 10.1), (6.2, 9.9),
    (6.4, 9.6), (6.55, 9.5), (6.7, 9.3), (6.85, 9.0),
    (9.3, 1.05), (9.5, 0.85), (9.65, 0.65), (9.85, 0.55), (9.95, 0.65), (10.1, 0.45), (10.25, 0.4),
    (10.45, 0.35), (10.65, 0.35), (10.85, 0.3), (11.05, 0.3), (11.25, 0.25), (11.45, 0.25), (9.15, 1.1),
    (9.0, 1.3), (8.9, 1.5), (8.75, 1.6), (9.1, 1.7), (9.25, 1.45), (9.45, 1.25), (9.6, 1.0), (9.75, 0.85),
]

# Highlighted states (green = CO2 increase branch, orange = CO2 decrease branch)
sep_green_A = [(3.16, 2.35), (4.38, 0.55)]
sep_orange_B = [(5.05, 0.2), (6.72, 0.0)]
mar_green_A = [(3.16, 12.2), (4.38, 11.1)]
mar_green_C = [(7.27, 8.3), (8.4, 2.05)]
mar_orange_B = [(5.05, 10.5), (6.73, 9.23)]
mar_orange_D = [(9.2, 1.0), (9.79, 0.53)]

x_tick_values = [0, 2, 4, 6, 8, 10, 12]
sep_y_ticks = [-1, 0, 2, 4, 6, 8]
mar_y_ticks = [-1, 0, 2, 4, 6, 8, 10, 12, 14, 16, 18]

# ---------------- figure ----------------
FONT = "Liberation Sans, Arial, Helvetica, sans-serif"
BLUE = "#0000ff"
RED = "#ff0000"
GREEN = "#006400"
ORANGE = "#ff8c00"


def unzip(pts):
    return [p[0] for p in pts], [p[1] for p in pts]


fig = go.Figure()


def add_increase(pts, xa, ya):
    x, y = unzip(pts)
    fig.add_trace(go.Scatter(
        x=x, y=y, mode="markers", xaxis=xa, yaxis=ya, showlegend=False, hoverinfo="skip",
        marker=dict(symbol="cross-thin", size=12, color=BLUE, line=dict(width=1.6, color=BLUE))))


def add_core(pts, xa, ya):
    x, y = unzip(pts)
    fig.add_trace(go.Scatter(
        x=x + [x[0]], y=y + [y[0]], mode="none", fill="toself", fillcolor=RED,
        xaxis=xa, yaxis=ya, showlegend=False, hoverinfo="skip"))


def add_decrease(pts, xa, ya):
    x, y = unzip(pts)
    fig.add_trace(go.Scatter(
        x=x, y=y, mode="markers", xaxis=xa, yaxis=ya, showlegend=False, hoverinfo="skip",
        marker=dict(symbol="circle", size=5, color=RED, line=dict(width=0))))


def add_green(pts, xa, ya):
    x, y = unzip(pts)
    fig.add_trace(go.Scatter(
        x=x, y=y, mode="lines+markers", xaxis=xa, yaxis=ya, showlegend=False, hoverinfo="skip",
        line=dict(color=GREEN, width=4.5, dash="12px,8px"),
        marker=dict(symbol="circle", size=17, color=GREEN)))


def add_orange(pts, xa, ya):
    x, y = unzip(pts)
    fig.add_trace(go.Scatter(
        x=x, y=y, mode="lines+markers", xaxis=xa, yaxis=ya, showlegend=False, hoverinfo="skip",
        line=dict(color=ORANGE, width=4.5, dash="12px,8px"),
        marker=dict(symbol="circle-x-open", size=16, color=ORANGE, line=dict(width=2.2, color=ORANGE))))


# panel (a) on x2/y2
add_increase(sep_increase + sep_increase_band + sep_increase_tail, "x2", "y2")
add_core(sep_decrease_core, "x2", "y2")
add_decrease(sep_decrease + sep_decrease_band + sep_decrease_tail, "x2", "y2")
add_green(sep_green_A, "x2", "y2")
add_orange(sep_orange_B, "x2", "y2")

# panel (b) on x/y
add_increase(mar_increase + mar_increase_band, "x", "y")
add_core(mar_decrease_core, "x", "y")
add_core(mar_decrease_tail_core, "x", "y")
add_decrease(mar_decrease + mar_decrease_band, "x", "y")
add_green(mar_green_A, "x", "y")
add_green(mar_green_C, "x", "y")
add_orange(mar_orange_B, "x", "y")
add_orange(mar_orange_D, "x", "y")

SPLIT = 0.4976
axis_common = dict(showline=True, linewidth=2, linecolor="black", mirror=True,
                   showgrid=False, zeroline=False, automargin=False)

# the page adds an 8 px body margin, so the figure is 16 px smaller than the window
fig.update_layout(
    width=967, height=943,
    margin=dict(l=114.5, r=11.5, t=9.5, b=97.5),
    paper_bgcolor="white", plot_bgcolor="white",
    font=dict(family=FONT, color="black", size=23),
    hovermode=False,
    xaxis=dict(domain=[0, 1], range=[0, 12], anchor="y", tickvals=x_tick_values,
               ticks="outside", ticklen=21, tickwidth=2, tickcolor="black",
               tickfont=dict(size=23.5), ticklabelstandoff=8, ticklabeloverflow="allow",
               minor=dict(ticks="outside", ticklen=10, tickwidth=1.5, tickcolor="black",
                          dtick=0.5, tick0=0, showgrid=False),
               **axis_common),
    yaxis=dict(domain=[0, SPLIT], range=[-1, 18], anchor="x", tickvals=mar_y_ticks,
               ticktext=[""] + [str(v) for v in mar_y_ticks[1:]],
               ticks="outside", ticklen=21, tickwidth=2, tickcolor="black",
               tickfont=dict(size=23.5), ticklabelstandoff=10, ticklabeloverflow="allow",
               **axis_common),
    xaxis2=dict(domain=[0, 1], range=[0, 12], anchor="y2", showticklabels=False, ticks="",
                **axis_common),
    yaxis2=dict(domain=[SPLIT, 1], range=[-1, 8], anchor="x2", tickvals=sep_y_ticks,
                ticktext=[""] + [str(v) for v in sep_y_ticks[1:]],
                ticks="outside", ticklen=21, tickwidth=2, tickcolor="black",
                tickfont=dict(size=23.5), ticklabelstandoff=10, ticklabeloverflow="allow",
                **axis_common),
)

ann = []
# axis titles
ann.append(dict(text="NH annual-mean surface temperature change [K]", xref="paper", yref="paper",
                x=0.5, y=-0.1001, xanchor="center", yanchor="middle", showarrow=False,
                font=dict(size=25)))
for yc in (0.7488, 0.2488):
    ann.append(dict(text="sea ice area [10<sup>6</sup> km<sup>2</sup>]", xref="paper", yref="paper",
                    x=-0.1159, y=yc, xanchor="center", yanchor="middle", textangle=-90,
                    showarrow=False, font=dict(size=25)))
# panel texts
ann += [
    dict(text="(a)", xref="x2", yref="y2", x=10.49, y=7.02, showarrow=False, font=dict(size=30)),
    dict(text="September", xref="x2", yref="y2", x=10.49, y=5.05, showarrow=False, font=dict(size=30)),
    dict(text="<b>CO<sub>2</sub> increase</b>", xref="x2", yref="y2", x=8.99, y=3.02,
         showarrow=False, font=dict(size=31, color=BLUE)),
    dict(text="<b>CO<sub>2</sub> decrease</b>", xref="x2", yref="y2", x=8.99, y=2.01,
         showarrow=False, font=dict(size=31, color=RED)),
    dict(text="<b>A</b>", xref="x2", yref="y2", x=3.10, y=1.68, showarrow=False,
         font=dict(size=28, color=GREEN)),
    dict(text="<b>B</b>", xref="x2", yref="y2", x=6.70, y=-0.61, showarrow=False,
         font=dict(size=28, color=ORANGE)),
    dict(text="(b)", xref="x", yref="y", x=10.49, y=16.5, showarrow=False, font=dict(size=30)),
    dict(text="March", xref="x", yref="y", x=10.49, y=11.98, showarrow=False, font=dict(size=30)),
    dict(text="<b>A</b>", xref="x", yref="y", x=3.10, y=10.42, showarrow=False,
         font=dict(size=28, color=GREEN)),
    dict(text="<b>C</b>", xref="x", yref="y", x=7.29, y=9.9, showarrow=False,
         font=dict(size=28, color=GREEN)),
    dict(text="<b>B</b>", xref="x", yref="y", x=6.69, y=7.36, showarrow=False,
         font=dict(size=28, color=ORANGE)),
    dict(text="<b>D</b>", xref="x", yref="y", x=9.78, y=-0.68, showarrow=False,
         font=dict(size=28, color=ORANGE)),
]
fig.update_layout(annotations=ann)

fig.write_html("out.html")
